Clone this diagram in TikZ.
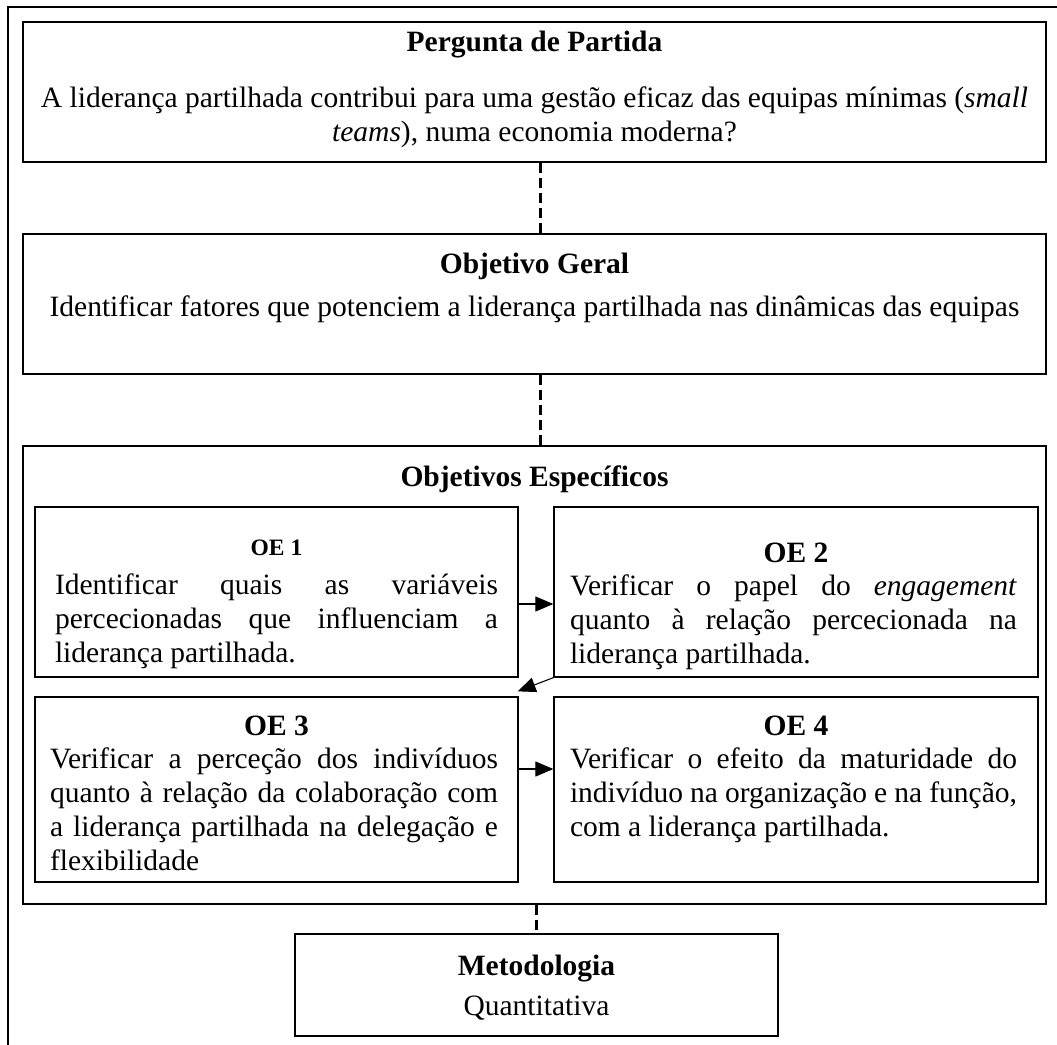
\documentclass[tikz,border=0pt]{standalone}
\usepackage{fontspec}
\setmainfont{Liberation Serif}
\usetikzlibrary{arrows.meta}
% one justified line, stretched to the full paragraph width
\newcommand\jline[1]{\makebox[\linewidth][s]{#1}\\}
\begin{document}
\begin{tikzpicture}[x=1pt,y=-1pt,
  frame/.style={draw, line width=1.2pt},
  bigbox/.style={draw, line width=2pt, inner sep=0pt},
  oebox/.style={draw, line width=1.3pt, inner sep=0pt},
  metbox/.style={draw, line width=2.6pt, inner sep=0pt},
  link/.style={line width=3pt, dash pattern=on 10pt off 5pt},
  flow/.style={line width=1.1pt, -{Triangle[length=18pt,width=15pt]}},
  txt/.style={font=\fontsize{29.5}{34}\selectfont, inner sep=0pt, anchor=base},
  head/.style={txt, font=\fontsize{29.5}{34}\selectfont\bfseries},
  smallhead/.style={txt, font=\fontsize{23.5}{28}\selectfont\bfseries}
]
\useasboundingbox (0,0) rectangle (1057,1044);
\fill[white] (0,0) rectangle (1057,1044);

% surrounding frame, open towards the lower right
\draw[frame] (8,1070) -- (8,7) -- (1080,7);

% main boxes
\node[bigbox, minimum width=1023pt, minimum height=140pt] (q) at (534.5,92) {};
\node[bigbox, minimum width=1023pt, minimum height=140pt] (g) at (534.5,304) {};
\node[bigbox, minimum width=1023pt, minimum height=458pt] (e) at (534.5,675) {};
\node[metbox, minimum width=483pt, minimum height=102pt] (m) at (536.5,985) {};

% specific objectives
\node[oebox, minimum width=483pt, minimum height=170pt] (oe1) at (276.5,592) {};
\node[oebox, minimum width=484pt, minimum height=170pt] (oe2) at (796,592) {};
\node[oebox, minimum width=483pt, minimum height=185pt] (oe3) at (276.5,789.5) {};
\node[oebox, minimum width=484pt, minimum height=185pt] (oe4) at (796,789.5) {};

% texts
\node[head] (qh) at (534.5,51) {Pergunta de Partida};
\node[txt] (qt) at (534.5,107) {\parbox[t]{1010pt}{\centering
  A liderança partilhada contribui para uma gestão eficaz das equipas mínimas (\textit{small}\\
  \textit{teams}), numa economia moderna?}};

\node[head] (gh) at (534.5,273) {Objetivo Geral};
\node[txt] (gt) at (534.5,316) {Identificar fatores que potenciem a liderança partilhada nas dinâmicas das equipas};

\node[head] (eh) at (534.5,486) {Objetivos Específicos};

\node[smallhead] (h1) at (276.5,555) {OE 1};
\node[txt] (t1) at (276.5,594) {\parbox[t]{443pt}{%
  \jline{Identificar quais as variáveis}
  \jline{percecionadas que influenciam a}
  liderança partilhada.}};

\node[head] (h2) at (796,562) {OE 2};
\node[txt] (t2) at (793.5,595) {\parbox[t]{447pt}{%
  \jline{Verificar o papel do \textit{engagement}}
  \jline{quanto à relação percecionada na}
  liderança partilhada.}};

\node[head] (h3) at (276.5,735) {OE 3};
\node[txt] (t3) at (274,768) {\parbox[t]{448pt}{%
  \jline{Verificar a perceção dos indivíduos}
  \jline{quanto à relação da colaboração com}
  \jline{a liderança partilhada na delegação e}
  flexibilidade}};

\node[head] (h4) at (796,735) {OE 4};
\node[txt] (t4) at (793.5,768) {\parbox[t]{447pt}{%
  \jline{Verificar o efeito da maturidade do}
  \jline{indivíduo na organização e na função,}
  com a liderança partilhada.}};

\node[head] (mh) at (536.5,975) {Metodologia};
\node[txt] (mt) at (536.5,1015) {Quantitativa};

% links between the levels
\draw[link] ([xshift=6pt]q.south) -- ([xshift=6pt]g.north);
\draw[link] ([xshift=6pt]g.south) -- ([xshift=6pt]e.north);
\draw[link] (m.north |- e.south) -- (m.north);

% sequence of the specific objectives
\draw[flow] ([yshift=-12pt]oe1.east) -- ([yshift=-12pt]oe2.west);
\draw[flow] (oe2.south west) -- ([shift={(-1pt,5pt)}]oe3.north east);
\draw[flow] ([yshift=20.5pt]oe3.east) -- ([yshift=20.5pt]oe4.west);
\end{tikzpicture}
\end{document}
